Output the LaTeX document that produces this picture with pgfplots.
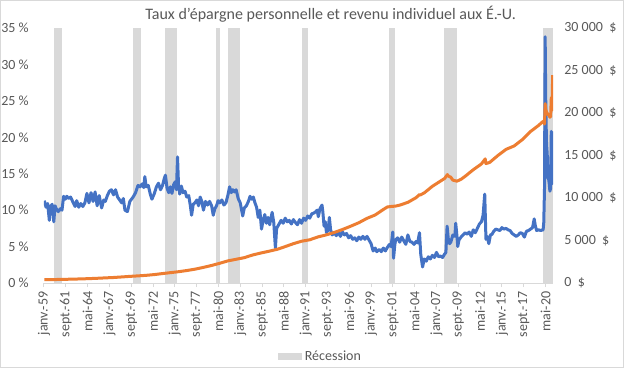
\documentclass[border=0pt]{standalone}
\usepackage{pgfplots}
\pgfplotsset{compat=1.18}
\usepackage{fontspec}
\setmainfont{Carlito}
\definecolor{sblue}{HTML}{4472C4}
\definecolor{sorange}{HTML}{ED7D31}
\definecolor{recgray}{HTML}{D9D9D9}
\definecolor{txtgray}{HTML}{595959}
\definecolor{linegray}{HTML}{D9D9D9}
\newcommand{\fs}{\fontsize{10.5}{12.6}\selectfont}
\newcommand{\dol}{\hspace{0.45em}\$}
\begin{document}
\begin{tikzpicture}
\useasboundingbox (0,0) rectangle (468pt,276pt);
\fill[white] (0,0) rectangle (468pt,276pt);
\draw[linegray, line width=0.75pt] (0.4pt,0.4pt) rectangle (467.6pt,275.6pt);
\node[text=txtgray, font=\fontsize{12}{14}\selectfont] at (248pt,265.5pt) {Taux d’épargne personnelle et revenu individuel aux É.-U.};
\begin{axis}[
  at={(33pt,63.75pt)}, anchor=south west,
  scale only axis, width=381.75pt, height=191.25pt,
  xmin=1959, xmax=2021.25, ymin=0, ymax=35,
  axis x line*=bottom, axis y line*=left,
  x axis line style={draw=linegray, -, line width=0.75pt},
  y axis line style={draw=none},
  tick align=outside, major tick length=3pt,
  xtick={1959,1961.667,1964.333,1967,1969.667,1972.333,1975,1977.667,1980.333,1983,1985.667,1988.333,1991,1993.667,1996.333,1999,2001.667,2004.333,2007,2009.667,2012.333,2015,2017.667,2020.333},
  xticklabels={janv.-59,sept.-61,mai-64,janv.-67,sept.-69,mai-72,janv.-75,sept.-77,mai-80,janv.-83,sept.-85,mai-88,janv.-91,sept.-93,mai-96,janv.-99,sept.-01,mai-04,janv.-07,sept.-09,mai-12,janv.-15,sept.-17,mai-20},
  x tick label style={rotate=90, anchor=east, font=\fs, text=txtgray},
  xtick style={draw=linegray, line width=0.75pt},
  ytick={0,5,10,15,20,25,30,35},
  yticklabels={0~\%,5~\%,10~\%,15~\%,20~\%,25~\%,30~\%,35~\%},
  y tick label style={font=\fs, text=txtgray, xshift=-5pt},
  ytick style={draw=none},
  legend style={at={(0.544,-0.29)}, anchor=center, draw=none, fill=none, font=\fs, text=txtgray},
  legend cell align=left,
]
\addplot[fill=recgray, draw=none, area legend, legend image code/.code={\fill[recgray] (0pt,-2.6pt) rectangle (18pt,2.6pt);}] coordinates {(1960.25,0) (1960.25,35) (1961.167,35) (1961.167,0)} -- cycle;
\addlegendentry{Récession}
\addplot[fill=recgray, draw=none, forget plot] coordinates {(1969.917,0) (1969.917,35) (1970.917,35) (1970.917,0)} -- cycle;
\addplot[fill=recgray, draw=none, forget plot] coordinates {(1973.833,0) (1973.833,35) (1975.25,35) (1975.25,0)} -- cycle;
\addplot[fill=recgray, draw=none, forget plot] coordinates {(1980.0,0) (1980.0,35) (1980.583,35) (1980.583,0)} -- cycle;
\addplot[fill=recgray, draw=none, forget plot] coordinates {(1981.5,0) (1981.5,35) (1982.917,35) (1982.917,0)} -- cycle;
\addplot[fill=recgray, draw=none, forget plot] coordinates {(1990.5,0) (1990.5,35) (1991.25,35) (1991.25,0)} -- cycle;
\addplot[fill=recgray, draw=none, forget plot] coordinates {(2001.167,0) (2001.167,35) (2001.917,35) (2001.917,0)} -- cycle;
\addplot[fill=recgray, draw=none, forget plot] coordinates {(2007.917,0) (2007.917,35) (2009.5,35) (2009.5,0)} -- cycle;
\addplot[fill=recgray, draw=none, forget plot] coordinates {(2020.083,0) (2020.083,35) (2021.25,35) (2021.25,0)} -- cycle;
\addplot[sblue, line width=2.25pt, line join=round, forget plot] coordinates {
(1959.04,11.3) (1959.25,10.4) (1959.45,10.9) (1959.65,8.6) (1959.8,10.5) (1960.0,10.8) (1960.2,8.4) (1960.35,10.6) (1960.5,10.2) (1960.75,9.8)
(1961.0,10.2) (1961.2,10.0) (1961.4,11.9) (1961.6,11.5) (1961.8,11.9) (1962.0,11.6) (1962.25,11.8) (1962.5,11.2) (1962.8,10.5) (1963.0,11.3)
(1963.25,10.4) (1963.5,10.9) (1963.75,10.5) (1964.0,11.0) (1964.25,12.3) (1964.5,11.0) (1964.75,12.4) (1965.0,11.2) (1965.25,12.5) (1965.5,10.6)
(1965.75,12.0) (1966.05,10.3) (1966.3,11.4) (1966.5,11.2) (1966.75,12.0) (1967.0,12.6) (1967.25,12.8) (1967.5,12.1) (1967.75,12.8) (1968.0,11.8)
(1968.25,11.4) (1968.5,11.0) (1968.7,11.6) (1968.9,10.0) (1969.2,9.8) (1969.5,11.2) (1969.9,11.8) (1970.2,12.4) (1970.5,13.4) (1970.75,13.2)
(1971.0,13.6) (1971.2,13.1) (1971.33,14.6) (1971.5,13.2) (1971.75,13.4) (1972.0,12.2) (1972.2,11.5) (1972.5,12.3) (1972.75,13.2) (1973.0,13.7)
(1973.25,12.8) (1973.5,13.4) (1973.7,14.3) (1973.85,14.8) (1974.05,13.0) (1974.25,12.4) (1974.45,13.2) (1974.65,12.3) (1974.85,13.5) (1975.05,13.9)
(1975.2,12.8) (1975.33,17.3) (1975.45,13.5) (1975.6,12.2) (1975.8,13.3) (1976.0,12.4) (1976.25,12.6) (1976.45,11.8) (1976.7,12.0) (1976.9,10.6)
(1977.05,9.3) (1977.25,10.8) (1977.45,11.0) (1977.7,11.4) (1977.9,10.6) (1978.1,11.8) (1978.3,11.2) (1978.5,10.0) (1978.75,11.2) (1979.0,10.7)
(1979.25,11.2) (1979.5,10.6) (1979.7,9.3) (1979.9,10.2) (1980.1,10.6) (1980.3,11.3) (1980.5,11.0) (1980.75,11.4) (1981.0,10.7) (1981.25,11.0)
(1981.5,12.1) (1981.7,13.2) (1981.9,12.4) (1982.1,12.8) (1982.3,12.5) (1982.5,12.8) (1982.75,11.6) (1983.0,11.0) (1983.3,9.2) (1983.5,10.3)
(1983.75,10.6) (1984.0,11.2) (1984.2,11.9) (1984.4,11.5) (1984.6,11.8) (1984.8,11.0) (1985.0,10.4) (1985.2,9.0) (1985.4,10.0) (1985.6,7.4)
(1985.8,8.6) (1986.0,9.4) (1986.2,8.2) (1986.4,9.0) (1986.6,8.0) (1986.9,9.7) (1987.1,8.3) (1987.3,4.8) (1987.45,7.5) (1987.7,8.0)
(1988.0,8.6) (1988.25,8.2) (1988.5,8.9) (1988.75,8.4) (1989.0,8.6) (1989.25,8.1) (1989.5,8.7) (1989.75,8.3) (1990.0,8.0) (1990.25,8.7)
(1990.5,8.2) (1990.75,8.9) (1991.0,8.6) (1991.25,9.2) (1991.5,8.9) (1991.75,9.5) (1992.0,9.6) (1992.25,9.8) (1992.4,10.0) (1992.55,9.1)
(1992.75,10.2) (1993.0,10.7) (1993.1,9.8) (1993.25,7.8) (1993.4,8.4) (1993.55,6.9) (1993.75,7.3) (1993.9,9.0) (1994.05,7.3) (1994.25,6.6)
(1994.5,6.9) (1994.75,6.5) (1995.0,7.0) (1995.25,6.4) (1995.5,7.0) (1995.75,6.6) (1996.0,6.8) (1996.25,6.2) (1996.5,6.5) (1996.75,6.0)
(1997.0,6.2) (1997.25,5.8) (1997.5,6.3) (1997.75,6.0) (1998.0,6.4) (1998.25,6.0) (1998.5,6.4) (1998.75,5.9) (1999.0,5.4) (1999.25,4.4)
(1999.5,4.8) (1999.7,4.3) (2000.0,4.6) (2000.25,4.3) (2000.5,4.8) (2000.75,4.4) (2001.0,4.9) (2001.25,5.3) (2001.45,5.0) (2001.65,7.0)
(2001.75,3.4) (2001.9,5.2) (2002.0,5.9) (2002.25,6.2) (2002.5,5.6) (2002.75,6.3) (2003.0,5.8) (2003.25,5.3) (2003.5,6.6) (2003.75,5.7)
(2004.0,5.6) (2004.25,5.3) (2004.5,5.7) (2004.7,5.5) (2004.92,6.9) (2005.08,3.9) (2005.3,2.2) (2005.5,3.3) (2005.75,3.0) (2006.0,3.6)
(2006.25,3.3) (2006.5,3.8) (2006.75,3.5) (2007.0,4.2) (2007.25,3.6) (2007.5,3.7) (2007.75,3.5) (2007.95,3.9) (2008.15,4.2) (2008.3,7.8)
(2008.45,6.0) (2008.6,5.4) (2008.75,5.6) (2009.0,6.6) (2009.25,6.4) (2009.35,8.2) (2009.5,6.5) (2009.6,5.0) (2009.75,5.9) (2010.0,6.3)
(2010.25,6.6) (2010.5,6.9) (2010.75,6.7) (2011.0,7.0) (2011.25,6.4) (2011.5,7.3) (2011.75,6.9) (2012.0,7.5) (2012.25,8.1) (2012.5,8.4)
(2012.7,9.3) (2012.9,12.2) (2013.05,6.0) (2013.2,6.4) (2013.4,5.4) (2013.6,6.6) (2013.8,6.7) (2014.0,7.1) (2014.25,7.4) (2014.5,7.3)
(2014.75,7.2) (2015.0,7.6) (2015.25,7.4) (2015.5,7.5) (2015.75,7.3) (2016.0,7.2) (2016.25,6.8) (2016.5,6.6) (2016.75,6.4) (2017.0,6.6)
(2017.25,6.9) (2017.5,6.8) (2017.75,6.3) (2018.0,7.1) (2018.25,7.2) (2018.5,7.4) (2018.75,7.6) (2018.95,8.8) (2019.1,7.8) (2019.25,7.2)
(2019.5,7.3) (2019.75,7.2) (2020.04,7.3) (2020.12,8.3) (2020.21,12.9) (2020.29,33.8) (2020.37,24.2) (2020.46,19.0) (2020.54,17.8) (2020.62,14.4)
(2020.71,14.3) (2020.79,13.6) (2020.87,12.6) (2020.96,13.0) (2021.04,20.8) (2021.12,13.6) (2021.21,20.8)
};
\end{axis}
\begin{axis}[
  at={(33pt,63.75pt)}, anchor=south west,
  scale only axis, width=381.75pt, height=191.25pt,
  xmin=1959, xmax=2021.25, ymin=0, ymax=30000,
  axis x line=none, axis y line*=right,
  y axis line style={draw=none},
  scaled y ticks=false,
  ytick={0,5000,10000,15000,20000,25000,30000},
  yticklabels={0\dol,5~000\dol,10~000\dol,15~000\dol,20~000\dol,25~000\dol,30~000\dol},
  y tick label style={font=\fs, text=txtgray, xshift=5pt},
  ytick style={draw=none},
]
\addplot[sorange, line width=2.25pt, line join=round] coordinates {
(1959.04,391) (1959.5,393) (1960.5,411) (1961.5,429) (1962.5,456) (1963.5,480) (1964.5,514) (1965.5,555) (1966.5,603) (1967.5,647)
(1968.5,711) (1969.5,779) (1970.5,838) (1971.5,903) (1972.5,992) (1973.5,1110) (1974.5,1222) (1975.5,1334) (1976.5,1474) (1977.5,1632)
(1978.5,1839) (1979.5,2063) (1980.5,2323) (1981.5,2605) (1982.5,2791) (1983.5,2981) (1984.5,3292) (1985.5,3524) (1986.5,3733) (1987.5,3961)
(1988.5,4283) (1989.5,4626) (1990.5,4914) (1991.5,5085) (1992.5,5420) (1993.5,5658) (1994.5,5947) (1995.5,6291) (1996.5,6679) (1997.5,7092)
(1998.5,7607) (1999.5,8001) (2000.5,8650) (2001.0,8950) (2001.5,9006) (2002.0,9050) (2002.5,9159) (2003.5,9488) (2004.5,10035) (2004.92,10400)
(2005.0,10350) (2005.5,10598) (2006.5,11381) (2007.5,11995) (2008.0,12300) (2008.33,12750) (2008.5,12550) (2008.75,12450) (2009.0,12100) (2009.5,11980)
(2010.0,12200) (2010.5,12551) (2011.5,13327) (2012.5,14010) (2012.96,14600) (2013.04,14050) (2013.5,14181) (2014.5,14992) (2015.5,15719) (2016.5,16125)
(2017.5,16870) (2018.5,17819) (2019.5,18551) (2019.96,18950) (2020.04,19000) (2020.12,19050) (2020.21,18700) (2020.29,21100) (2020.37,20400) (2020.46,20100)
(2020.54,20000) (2020.62,19800) (2020.71,19800) (2020.79,19700) (2020.87,19500) (2020.96,19600) (2021.04,21800) (2021.12,20300) (2021.21,24450)
};
\end{axis}
\end{tikzpicture}
\end{document}
